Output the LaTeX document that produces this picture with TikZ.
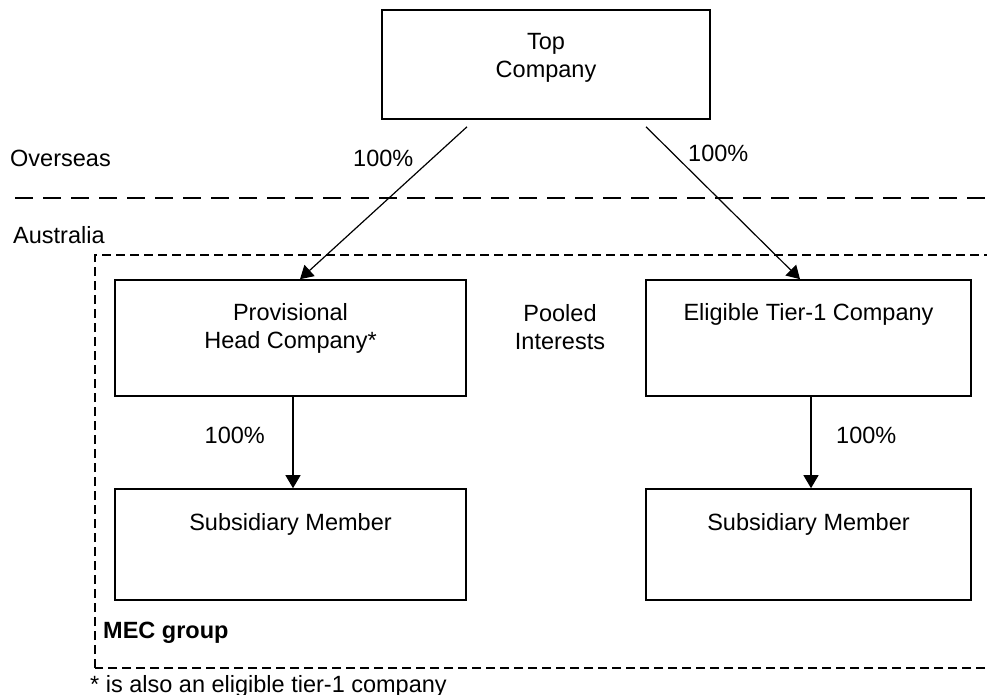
\documentclass[tikz,border=0pt]{standalone}
\usepackage{fontspec}
\setmainfont{Liberation Sans}
\usetikzlibrary{positioning,arrows.meta}

\tikzset{
	box/.style={draw,line width=1.6pt,inner sep=0pt},
	boxtext/.style={inner sep=0pt,align=center,anchor=north},
	plain/.style={inner sep=0pt},
	owns/.style={line width=1.2pt,-{Triangle[length=13pt,width=15pt]}},
}

\begin{document}
\begin{tikzpicture}[x=1pt,y=-1pt,font=\fontsize{23.5}{28}\selectfont]
	\useasboundingbox (0,0) rectangle (987,695);
	
	% boundary lines
	\draw[line width=1.3pt,dash pattern=on 18pt off 10pt] (15,198) -- (987,198);
	\draw[line width=1.3pt,dash pattern=on 9pt off 5pt] (95,668) -- (95,255) -- (995,255) -- (995,668) -- cycle;
	
	\node[plain,anchor=west] (overseas) at (10,158) {Overseas};
	\node[plain,anchor=west] (australia) at (13,235) {Australia};
	
	% companies
	\node[box,minimum width=328pt,minimum height=109pt] (top) at (546,64.5) {};
	\node[boxtext,below=24pt of top.north] (toptext) {Top\\Company};
	
	\node[box,minimum width=351pt,minimum height=116pt] (phc) at (290.5,338) {};
	\node[boxtext,below=24pt of phc.north] (phctext) {Provisional\\Head Company*};
	
	\node[box,minimum width=325pt,minimum height=116pt] (elig) at (808.5,338) {};
	\node[boxtext,below=24pt of elig.north] (eligtext) {Eligible Tier-1 Company};
	
	\node[box,minimum width=351pt,minimum height=111pt] (subl) at (290.5,544.5) {};
	\node[boxtext,below=25pt of subl.north] (subltext) {Subsidiary Member};
	
	\node[box,minimum width=325pt,minimum height=111pt] (subr) at (808.5,544.5) {};
	\node[boxtext,below=25pt of subr.north] (subrtext) {Subsidiary Member};
	
	\node[boxtext] (pooled) at (560,304) {Pooled\\Interests};
	
	% ownership
	\draw[owns] ([xshift=-79pt,yshift=-7pt]top.south) -- ([xshift=9.5pt]phc.north);
	\draw[owns] ([xshift=100pt,yshift=-7pt]top.south) -- ([xshift=-8.5pt]elig.north);
	\draw[owns] ([xshift=2.5pt]phc.south) -- ([xshift=2.5pt]subl.north);
	\draw[owns] ([xshift=2.5pt]elig.south) -- ([xshift=2.5pt]subr.north);
	
	\node[plain,anchor=west] (pctl) at (353,158) {100\%};
	\node[plain,anchor=west] (pctr) at (688,153) {100\%};
	\node[plain,anchor=east] (pctphc) at (265,435) {100\%};
	\node[plain,anchor=west] (pctelig) at (836,435) {100\%};
	
	\node[plain,anchor=west,font=\fontsize{23.5}{28}\selectfont\bfseries] (mec) at (103,633) {MEC group};
	\node[plain,anchor=base west] (note) at (90,692) {* is also an eligible tier-1 company};
\end{tikzpicture}
\end{document}
